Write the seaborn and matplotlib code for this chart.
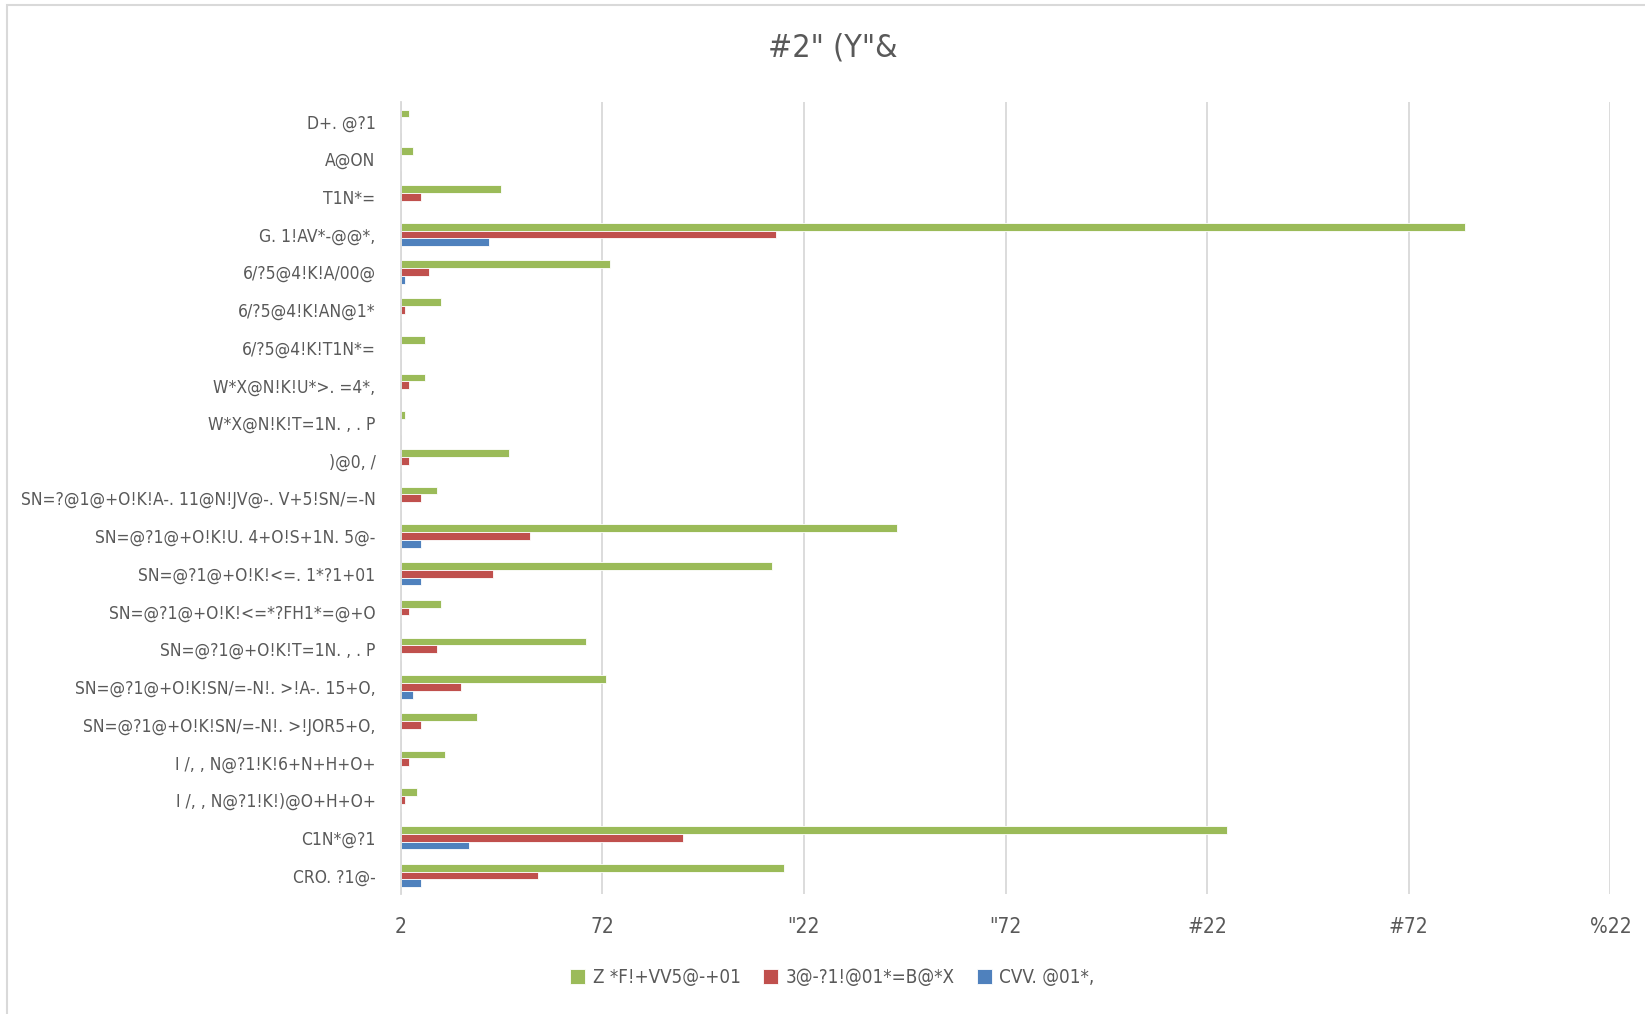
import pandas as pd
import matplotlib.pyplot as plt
import seaborn as sns
from matplotlib.patches import Rectangle


# DATA (top row first)

categories = [
    "D+. @?1", "A@ON", "T1N*=", "G. 1!AV*-@@*,", "6/?5@4!K!A/00@",
    "6/?5@4!K!AN@1*", "6/?5@4!K!T1N*=", "W*X@N!K!U*>. =4*,", "W*X@N!K!T=1N. , . P",
    ")@0, /", "SN=?@1@+O!K!A-. 11@N!JV@-. V+5!SN/=-N", "SN=@?1@+O!K!U. 4+O!S+1N. 5@-",
    "SN=@?1@+O!K!<=. 1*?1+01", "SN=@?1@+O!K!<=*?FH1*=@+O", "SN=@?1@+O!K!T=1N. , . P",
    "SN=@?1@+O!K!SN/=-N!. >!A-. 15+O,", "SN=@?1@+O!K!SN/=-N!. >!JOR5+O,",
    "I /, , N@?1!K!6+N+H+O+", "I /, , N@?1!K!)@O+H+O+", "C1N*@?1", "CRO. ?1@-",
]
series_names = ["Z *F!+VV5@-+01", "3@-?1!@01*=B@*X", "CVV. @01*,"]
green_vals = [2, 3, 25, 264, 52, 10, 6, 6, 1, 27, 9, 123, 92, 10, 46, 51, 19, 11, 4, 205, 95]
red_vals = [0, 0, 5, 93, 7, 1, 0, 2, 0, 2, 5, 32, 23, 2, 9, 15, 5, 2, 1, 70, 34]
blue_vals = [0, 0, 0, 22, 1, 0, 0, 0, 0, 0, 0, 5, 5, 0, 0, 3, 0, 0, 0, 17, 5]
tick_values = [0, 50, 100, 150, 200, 250, 300]
tick_labels = ["2", "72", "\"22", "\"72", "#22", "#72", "%22"]
title = "#2\" (Y\"&"

palette = ["#9BBB59", "#C0504D", "#4F81BD"]


df = pd.DataFrame({
    "cat": categories * 3,
    "series": [series_names[0]] * len(categories) + [series_names[1]] * len(categories)
              + [series_names[2]] * len(categories),
    "value": green_vals + red_vals + blue_vals,
})

sns.set_style("white")
plt.rcParams['font.family'] = ['DejaVu Sans']
plt.rcParams['font.stretch'] = 'condensed'
text_col = "#595959"

fig = plt.figure(figsize=(16.45, 10.14), dpi=100)
ax = fig.add_axes([0.2435, 0.118, 0.7355, 0.781])

sns.barplot(data=df, y="cat", x="value", hue="series", order=categories,
            hue_order=series_names, palette=palette, width=0.62, orient="h",
            saturation=1, edgecolor="white", linewidth=0.6, ax=ax, legend=True)

ax.set_xlim(0, 300)
ax.set_xticks(tick_values)
ax.set_xticklabels(tick_labels, fontsize=15, color=text_col)
ax.tick_params(axis="y", labelsize=12.5, labelcolor=text_col, length=0, pad=18)
ax.tick_params(axis="x", length=0, pad=16)
ax.set_ylim(len(categories) - 0.5, -0.5)
ax.set_xlabel("")
ax.set_ylabel("")
ax.grid(axis="x", color="#D9D9D9", linewidth=1.3)
ax.set_axisbelow(True)
for s in ["top", "right", "bottom"]:
    ax.spines[s].set_visible(False)
ax.spines["left"].set_color("#D9D9D9")
ax.spines["left"].set_linewidth(1.3)

fig.text(0.506, 0.953, title, ha="center", va="center", fontsize=23, color=text_col)

handles, labels = ax.get_legend_handles_labels()
ax.legend_.remove()
fig.legend(handles, labels, loc="center", bbox_to_anchor=(0.506, 0.036), ncol=3,
           frameon=False, fontsize=13.5, labelcolor=text_col, handlelength=0.8,
           handleheight=0.8, handletextpad=0.4, columnspacing=1.2)

# chart border
fig.patches.append(Rectangle((0.0045, -0.01), 1.2, 1.005, transform=fig.transFigure,
                             fill=False, edgecolor="#D9D9D9", linewidth=1.5))

fig.savefig("out.png", dpi=100, facecolor="white")
